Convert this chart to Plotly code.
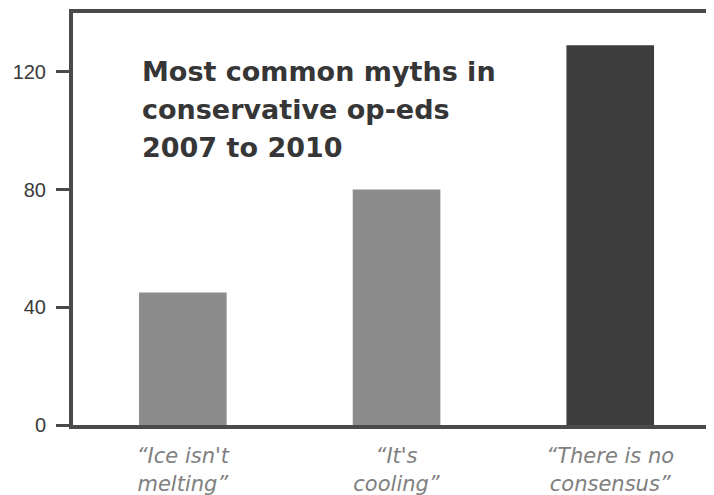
import plotly.graph_objects as go

# ── Data ──────────────────────────────────────────────────────────────────────
CATEGORIES = [
    "\u201cIce isn't<br>melting\u201d",
    "\u201cIt's<br>cooling\u201d",
    "\u201cThere is no<br>consensus\u201d",
]
COUNTS = [45, 80, 129]
BAR_COLOURS = ["#8c8c8c", "#8c8c8c", "#3e3e3e"]
Y_TICKS = [0, 40, 80, 120]
TITLE_LINES = ["Most common myths in", "conservative op-eds", "2007 to 2010"]

_AXIS = "#4a4a4a"
_FONT = "Liberation Sans, Arial, sans-serif"
_WIDE = "DejaVu Sans, sans-serif"

# page body has an 8px margin; the plot area runs past the window's right edge
fig = go.Figure(
    go.Bar(
        x=CATEGORIES,
        y=COUNTS,
        marker=dict(color=BAR_COLOURS, line_width=0),
        width=0.41,
    )
)

# title drawn as three stacked lines inside the plot area
for i, line in enumerate(TITLE_LINES):
    fig.add_annotation(
        text=f"<b>{line}</b>",
        xref="paper", yref="paper",
        x=0.103, y=0.857 - i * 0.0922,
        xanchor="left", yanchor="middle",
        showarrow=False,
        font=dict(family=_WIDE, size=27, color="#363636"),
    )

fig.update_layout(
    width=714,
    height=487,
    margin=dict(l=65, r=0, t=5, b=70),
    paper_bgcolor="white",
    plot_bgcolor="white",
    showlegend=False,
)
fig.update_xaxes(
    range=[-0.514, 2.523],
    showline=True,
    linewidth=4,
    linecolor=_AXIS,
    mirror=True,
    ticks="",
    showgrid=False,
    automargin=False,
    ticklabelstandoff=9,
    tickfont=dict(family=_WIDE, size=21, color="#808080", style="italic"),
)
fig.update_yaxes(
    range=[0, 140],
    tickvals=Y_TICKS,
    showline=True,
    linewidth=4,
    linecolor=_AXIS,
    ticks="outside",
    ticklen=13,
    tickwidth=3,
    tickcolor=_AXIS,
    showgrid=False,
    zeroline=False,
    ticklabelstandoff=6,
    tickfont=dict(family=_FONT, size=20, color="#3a3a3a"),
)

fig.write_html("out.html")
